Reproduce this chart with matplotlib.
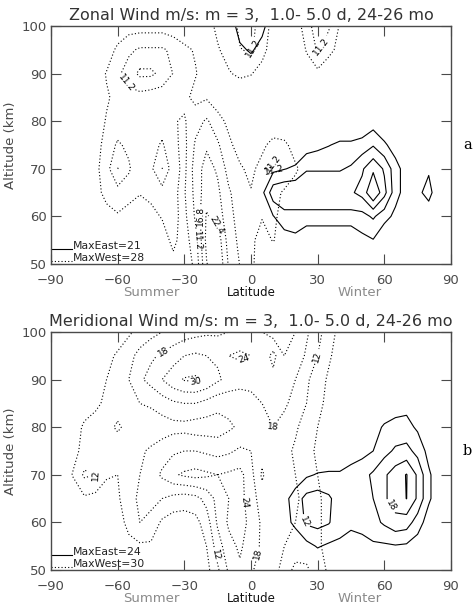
import numpy as np
import matplotlib
matplotlib.use("Agg")
import matplotlib.pyplot as plt

# grid: latitude every 5 deg, altitude rows from 100 km down to 50 km
lat = list(range(-90, 91, 5))
alt = [100, 95, 90, 85, 80, 75, 70, 65, 60, 55, 50]

# panel a - zonal wind, westward (dotted) and eastward (solid) amplitudes, m/s
zonal_west = [
    [0, 0, 0, 0, 0, 0, 1, 3, 3, 3, 3, 2, 1, 0, 3, 7, 9, 12, 12, 10, 3, 0, 2, 9, 14, 12, 5, 0, 0, 0, 0, 0, 0, 0, 0, 0, 0],
    [0, 0, 0, 0, 0, 2, 7, 10, 12, 12, 12, 10, 7, 5, 2, 5, 8, 11, 12, 8, 2, 0, 1, 6, 12, 8, 3, 0, 0, 0, 0, 0, 0, 0, 0, 0, 0],
    [0, 0, 0, 0, 2, 6, 10, 14, 18, 18, 15, 11, 8, 6, 3, 3, 5, 7, 6, 3, 0, 0, 0, 3, 4, 0, 0, 0, 0, 0, 0, 0, 0, 0, 0, 0, 0],
    [0, 0, 0, 0, 2, 5, 7, 9, 9, 8, 8, 9, 7, 4, 5, 2, 0, 0, 0, 0, 0, 0, 0, 0, 0, 0, 0, 0, 0, 0, 0, 0, 0, 0, 0, 0, 0],
    [0, 0, 0, 0, 3, 6, 8, 7, 6, 7, 8, 6, 5, 9, 12, 8, 4, 0, 0, 0, 0, 0, 0, 0, 0, 0, 0, 0, 0, 0, 0, 0, 0, 0, 0, 0, 0],
    [0, 0, 0, 1, 3, 8, 12, 10, 7, 9, 12, 7, 4, 12, 16, 12, 7, 3, 0, 4, 8, 7, 3, 0, 0, 0, 0, 0, 0, 0, 0, 0, 0, 0, 0, 0, 0],
    [0, 0, 0, 2, 4, 9, 17, 12, 7, 10, 17, 8, 4, 14, 19, 16, 9, 6.5, 4, 8, 12, 9, 6.5, 3, 0, 0, 0, 0, 0, 0, 0, 0, 0, 0, 0, 0, 0],
    [0, 0, 0, 1, 4, 7, 9, 8, 6, 7, 9, 6, 5, 13, 20, 18, 12, 8, 6, 7, 7, 5, 3, 0, 0, 0, 0, 0, 0, 0, 0, 0, 0, 0, 0, 0, 0],
    [0, 0, 0, 0, 2, 4, 5, 3, 2, 4, 6, 7, 4, 12, 23, 20, 13, 9, 6.5, 6, 7, 3, 0, 0, 0, 0, 0, 0, 0, 0, 0, 0, 0, 0, 0, 0, 0],
    [0, 0, 0, 0, 0, 0, 0, 0, 0, 2, 3, 7, 3, 9, 24, 26, 14, 10, 7, 3, 6, 2, 0, 0, 0, 0, 0, 0, 0, 0, 0, 0, 0, 0, 0, 0, 0],
    [0, 0, 0, 0, 0, 0, 0, 0, 0, 0, 1, 4, 2, 7, 22, 28, 16, 11, 7, 2, 0, 0, 0, 0, 0, 0, 0, 0, 0, 0, 0, 0, 0, 0, 0, 0, 0],
]
zonal_east = [
    [0, 0, 0, 0, 0, 0, 0, 0, 0, 0, 0, 0, 0, 0, 0, 0, 0, 7, 8, 6, 0, 0, 0, 0, 0, 0, 0, 0, 0, 0, 0, 0, 0, 0, 0, 0, 0],
    [0, 0, 0, 0, 0, 0, 0, 0, 0, 0, 0, 0, 0, 0, 0, 0, 0, 3, 5, 2, 0, 0, 0, 0, 0, 0, 0, 0, 0, 0, 0, 0, 0, 0, 0, 0, 0],
    [0, 0, 0, 0, 0, 0, 0, 0, 0, 0, 0, 0, 0, 0, 0, 0, 0, 0, 0, 0, 0, 0, 0, 0, 0, 0, 0, 0, 0, 0, 0, 0, 0, 0, 0, 0, 0],
    [0, 0, 0, 0, 0, 0, 0, 0, 0, 0, 0, 0, 0, 0, 0, 0, 0, 0, 0, 0, 0, 0, 0, 0, 0, 0, 0, 0, 0, 0, 0, 0, 0, 0, 0, 0, 0],
    [0, 0, 0, 0, 0, 0, 0, 0, 0, 0, 0, 0, 0, 0, 0, 0, 0, 0, 0, 0, 0, 0, 0, 0, 0, 0, 0, 0, 0, 2, 0, 0, 0, 0, 0, 0, 0],
    [0, 0, 0, 0, 0, 0, 0, 0, 0, 0, 0, 0, 0, 0, 0, 0, 0, 0, 0, 0, 0, 0, 0, 2, 3, 4, 5, 5, 6, 8, 5, 2, 0, 0, 0, 0, 0],
    [0, 0, 0, 0, 0, 0, 0, 0, 0, 0, 0, 0, 0, 0, 0, 0, 0, 0, 0, 0, 3, 4, 5, 8, 8, 8, 8, 9, 12, 16, 12, 6, 2, 2, 3.5, 0, 0],
    [0, 0, 0, 0, 0, 0, 0, 0, 0, 0, 0, 0, 0, 0, 0, 0, 0, 0, 0, 3, 11, 12, 12, 12, 12, 12, 12, 12, 14, 21, 14, 6, 2, 3, 6, 0, 0],
    [0, 0, 0, 0, 0, 0, 0, 0, 0, 0, 0, 0, 0, 0, 0, 0, 0, 0, 0, 0, 4, 7, 7, 7, 7, 7, 7, 7, 7, 9, 6, 3, 0, 0, 1, 0, 0],
    [0, 0, 0, 0, 0, 0, 0, 0, 0, 0, 0, 0, 0, 0, 0, 0, 0, 0, 0, 0, 0, 2, 3, 0, 0, 0, 0, 0, 3, 4, 0, 0, 0, 0, 0, 0, 0],
    [0, 0, 0, 0, 0, 0, 0, 0, 0, 0, 0, 0, 0, 0, 0, 0, 0, 0, 0, 0, 0, 0, 0, 0, 0, 0, 0, 0, 0, 0, 0, 0, 0, 0, 0, 0, 0],
]
zonal_west_levels = [5.6, 11.2, 16.8, 22.4]
zonal_east_levels = [4.2, 8.4, 12.6, 16.8]
zonal_max_east, zonal_max_west = 21, 28

# panel b - meridional wind
merid_west = [
    [0, 0, 0, 0, 0, 0, 2, 5, 8, 10, 12, 14, 15, 16, 17, 17, 18, 20, 22, 24, 27, 27, 24, 19, 14, 9, 4, 0, 0, 0, 0, 0, 0, 0, 0, 0, 0],
    [0, 0, 0, 0, 2, 4, 7, 10, 14, 17, 19, 21, 24, 25, 24, 23, 24, 25, 24, 22, 16, 24, 22, 17, 12, 7, 3, 0, 0, 0, 0, 0, 0, 0, 0, 0, 0],
    [0, 0, 0, 1, 3, 6, 9, 12, 17, 20, 24, 28, 30.5, 31, 29, 25, 22, 20, 19, 19, 20, 21, 18, 13, 9, 5, 2, 0, 0, 0, 0, 0, 0, 0, 0, 0, 0],
    [0, 0, 1, 3, 5, 7, 9, 11, 12, 13, 15, 17, 18, 18, 16, 14, 14, 15, 17, 18, 19, 19, 16, 12, 8, 4, 1, 0, 0, 0, 0, 0, 0, 0, 0, 0, 0],
    [0, 1, 3, 7, 8, 10, 13, 10, 8, 8, 9, 10, 10, 9, 9, 9, 11, 13, 15, 17, 18, 16, 13, 9, 6, 3, 0, 0, 0, 0, 0, 0, 0, 0, 0, 0, 0],
    [0, 2, 4, 8, 9, 8, 8, 9, 11, 13, 15, 17, 18, 18, 17, 16, 17, 19, 18, 15, 16, 14, 11, 8, 5, 2, 0, 0, 0, 0, 0, 0, 0, 0, 0, 0, 0],
    [0, 2, 6.5, 13, 12, 6.5, 6, 9, 12, 15, 19, 23, 25, 26, 25, 24, 25, 26, 20, 11, 17, 15, 12, 9, 6, 3, 0, 0, 0, 0, 0, 0, 0, 0, 0, 0, 0],
    [0, 0, 2, 5, 4, 4, 5, 10, 13, 14, 12, 10, 9, 10, 14, 20, 24, 26, 21, 15, 18, 16, 13, 10, 7, 4, 0, 0, 0, 0, 0, 0, 0, 0, 0, 0, 0],
    [0, 0, 0, 0, 0, 0, 3, 8, 12, 10, 5, 3, 3, 4, 9, 19, 25, 27, 22, 17, 15, 14, 12, 10, 7, 4, 0, 0, 0, 0, 0, 0, 0, 0, 0, 0, 0],
    [0, 0, 0, 0, 0, 0, 0, 4, 5, 5, 2, 0, 0, 0, 6, 15, 22, 25, 21, 17, 13, 12, 11, 9, 7, 4, 0, 0, 0, 0, 0, 0, 0, 0, 0, 0, 0],
    [0, 0, 0, 0, 0, 0, 0, 0, 0, 0, 0, 0, 0, 0, 4, 11, 19, 23, 19, 15, 13, 11, 12.5, 13, 9, 5, 2, 0, 0, 0, 0, 0, 0, 0, 0, 0, 0],
]
merid_east = [
    [0, 0, 0, 0, 0, 0, 0, 0, 0, 0, 0, 0, 0, 0, 0, 0, 0, 0, 0, 0, 0, 0, 0, 0, 0, 0, 0, 0, 0, 0, 0, 0, 0, 0, 0, 0, 0],
    [0, 0, 0, 0, 0, 0, 0, 0, 0, 0, 0, 0, 0, 0, 0, 0, 0, 0, 0, 0, 0, 0, 0, 0, 0, 0, 0, 0, 0, 0, 0, 0, 0, 0, 0, 0, 0],
    [0, 0, 0, 0, 0, 0, 0, 0, 0, 0, 0, 0, 0, 0, 0, 0, 0, 0, 0, 0, 0, 0, 0, 0, 0, 0, 0, 0, 0, 0, 0, 0, 0, 0, 0, 0, 0],
    [0, 0, 0, 0, 0, 0, 0, 0, 0, 0, 0, 0, 0, 0, 0, 0, 0, 0, 0, 0, 0, 0, 0, 0, 0, 0, 0, 0, 0, 0, 0, 3, 4, 0, 0, 0, 0],
    [0, 0, 0, 0, 0, 0, 0, 0, 0, 0, 0, 0, 0, 0, 0, 0, 0, 0, 0, 0, 0, 0, 0, 0, 0, 0, 0, 0, 0, 3, 7, 8, 8, 5, 2, 0, 0],
    [0, 0, 0, 0, 0, 0, 0, 0, 0, 0, 0, 0, 0, 0, 0, 0, 0, 0, 0, 0, 0, 0, 0, 0, 0, 0, 0, 2, 4, 6, 10, 13, 14, 10, 4, 0, 0],
    [0, 0, 0, 0, 0, 0, 0, 0, 0, 0, 0, 0, 0, 0, 0, 0, 0, 0, 0, 0, 0, 0, 2, 5, 6.5, 7, 7, 9, 10, 13, 17, 21, 24.3, 17, 7, 2, 0],
    [0, 0, 0, 0, 0, 0, 0, 0, 0, 0, 0, 0, 0, 0, 0, 0, 0, 0, 0, 0, 0, 4, 9, 14, 15, 13, 9, 9, 11, 12, 17, 21, 24.1, 17, 7, 2, 0],
    [0, 0, 0, 0, 0, 0, 0, 0, 0, 0, 0, 0, 0, 0, 0, 0, 0, 0, 0, 0, 0, 3, 8, 13, 14, 12.5, 8, 7, 8, 10, 13, 16, 15, 9, 3, 0, 0],
    [0, 0, 0, 0, 0, 0, 0, 0, 0, 0, 0, 0, 0, 0, 0, 0, 0, 0, 0, 0, 0, 0, 0, 4, 6.5, 5, 5, 4, 4, 5, 5, 5.5, 5, 3, 0, 0, 0],
    [0, 0, 0, 0, 0, 0, 0, 0, 0, 0, 0, 0, 0, 0, 0, 0, 0, 0, 0, 0, 0, 0, 0, 0, 0, 0, 0, 0, 0, 0, 0, 0, 0, 0, 0, 0, 0],
]
merid_west_levels = [6, 12, 18, 24, 30]
merid_east_levels = [6, 12, 18, 24]
merid_max_east, merid_max_west = 24, 30

AXIS_GRAY = "#4a4a4a"
DOTS = (0, (1, 2))


def contour_levels(ax, field, levels, style, fmt, labels):
    """One contour call per level, so each level can get its own hand placed labels."""
    for lev in levels:
        cs = ax.contour(lat, alt, field, levels=[lev], colors="k",
                        linewidths=0.8, linestyles=[style])
        spots = labels.get(lev)
        if spots:
            ax.clabel(cs, fmt=fmt, fontsize=6.5, inline=True,
                      inline_spacing=2, manual=spots)


def draw_panel(ax, title, west, east, west_levels, east_levels,
               max_east, max_west, tag, fmt, west_labels, east_labels):
    """Contour one latitude-altitude panel in the old IDL style."""
    west = np.array(west, dtype=float)
    east = np.array(east, dtype=float)

    contour_levels(ax, west, west_levels, DOTS, fmt, west_labels)
    contour_levels(ax, east, east_levels, "solid", fmt, east_labels)

    ax.set_xlim(-90, 90)
    ax.set_ylim(50, 100)
    ax.set_xticks([-90, -60, -30, 0, 30, 60, 90])
    ax.set_yticks([50, 60, 70, 80, 90, 100])
    ax.tick_params(direction="in", length=7, width=0.8, top=True, right=True,
                   colors=AXIS_GRAY, labelsize=9.5)
    ax.tick_params(axis="x", pad=7)
    ax.tick_params(axis="y", pad=3)
    for sp in ax.spines.values():
        sp.set_color(AXIS_GRAY)
        sp.set_linewidth(1.0)

    ax.set_title(title, fontsize=11.5, color="#333333", pad=4)
    ax.set_ylabel("Altitude (km)", fontsize=9.5, color=AXIS_GRAY)
    ax.yaxis.set_label_coords(-0.085, 0.5)

    # hemisphere notes under the axis
    tr = ax.get_xaxis_transform()
    ax.text(-45, -0.118, "Summer", transform=tr, ha="center", va="center",
            fontsize=9.5, color="#8a8a8a")
    ax.text(0, -0.118, "Latitude", transform=tr, ha="center", va="center",
            fontsize=8.5, color="#111111")
    ax.text(49, -0.118, "Winter", transform=tr, ha="center", va="center",
            fontsize=9.5, color="#8a8a8a")

    # legend keys in the lower left corner
    ax.plot([0, 0.052], [0.062, 0.062], transform=ax.transAxes, color="k",
            lw=0.8, clip_on=False)
    ax.plot([0, 0.052], [0.012, 0.012], transform=ax.transAxes, color="k",
            lw=0.8, ls=DOTS, clip_on=False)
    ax.text(0.055, 0.062, f"MaxEast={max_east}", transform=ax.transAxes,
            fontsize=7.8, color="#222222", va="baseline")
    ax.text(0.055, 0.012, f"MaxWest={max_west}", transform=ax.transAxes,
            fontsize=7.8, color="#222222", va="baseline")

    ax.text(1.03, 0.5, tag, transform=ax.transAxes, fontsize=10.5,
            family="DejaVu Serif", va="center", ha="left")


plt.rcParams["font.family"] = "DejaVu Sans"
fig = plt.figure(figsize=(4.76, 6.07), dpi=100)
ax_a = fig.add_axes([0.1071, 0.5651, 0.8403, 0.3921])
ax_b = fig.add_axes([0.1071, 0.0610, 0.8403, 0.3921])

draw_panel(ax_a, "Zonal Wind m/s: m = 3,  1.0- 5.0 d, 24-26 mo",
           zonal_west, zonal_east, zonal_west_levels, zonal_east_levels,
           zonal_max_east, zonal_max_west, "a", "%.1f",
           west_labels={11.2: [(-60, 87), (7, 95), (35, 95), (6, 73),
                               (13, 68), (-22, 55)],
                        16.8: [(-21, 60)],
                        22.4: [(-16, 58)]},
           east_labels={})

draw_panel(ax_b, "Meridional Wind m/s: m = 3,  1.0- 5.0 d, 24-26 mo",
           merid_west, merid_east, merid_west_levels, merid_east_levels,
           merid_max_east, merid_max_west, "b", "%d",
           west_labels={12: [(-64, 70), (35, 94), (-8, 54)],
                        18: [(-41, 97), (10, 79), (-3, 54)],
                        24: [(-3, 94), (-5, 64)],
                        30: [(-25, 90)]},
           east_labels={12: [(21, 60)], 18: [(65, 64)]})

fig.savefig("out.png", dpi=100)
